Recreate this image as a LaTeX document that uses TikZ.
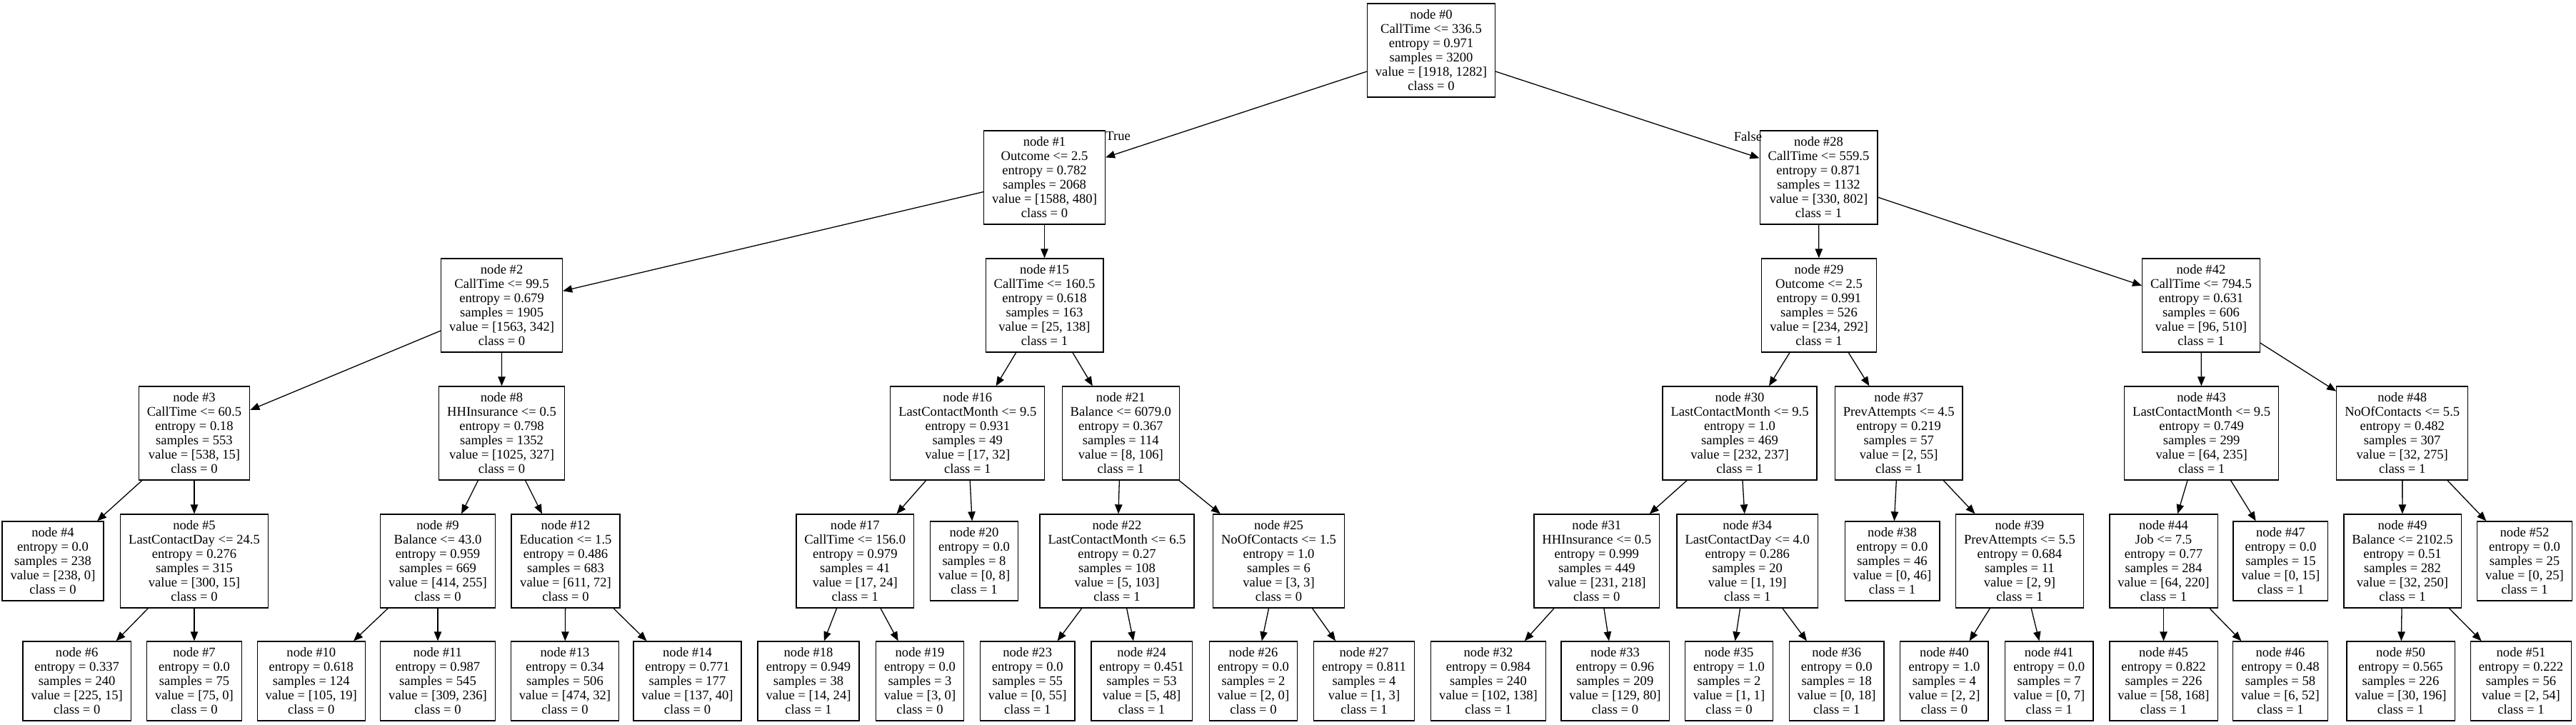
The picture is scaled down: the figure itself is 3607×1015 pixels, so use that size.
\documentclass[tikz,border=0pt]{standalone}
\usepackage{fontspec}
\setmainfont{Liberation Serif}
\usepackage{tikz}
\usetikzlibrary{arrows.meta}

\begin{document}
\begin{tikzpicture}[x=0.5pt, y=-0.5pt,
  box/.style={draw, line width=0.65pt, align=center, inner xsep=5.75pt, inner ysep=0pt, font=\fontsize{9.3}{10}\selectfont},
  split/.style={box, minimum height=65.5pt},
  leaf/.style={box, minimum height=55.5pt},
  link/.style={line width=0.65pt, -{Triangle[length=6.5pt, width=5.2pt]}},
  elabel/.style={inner sep=0pt, font=\fontsize{9.3}{10}\selectfont}]
\useasboundingbox (0,0) rectangle (3607,1015);
% rank 0 and 1
\node[split] (n0) at (2004,70.5) {node \#0\\CallTime <= 336.5\\entropy = 0.971\\samples = 3200\\value = [1918, 1282]\\class = 0};
\node[split] (n1) at (1462.5,248.5) {node \#1\\Outcome <= 2.5\\entropy = 0.782\\samples = 2068\\value = [1588, 480]\\class = 0};
\node[split] (n28) at (2546.5,248.5) {node \#28\\CallTime <= 559.5\\entropy = 0.871\\samples = 1132\\value = [330, 802]\\class = 1};
% rank 2
\node[split] (n2) at (702.6,427.5) {node \#2\\CallTime <= 99.5\\entropy = 0.679\\samples = 1905\\value = [1563, 342]\\class = 0};
\node[split] (n15) at (1462.5,427.5) {node \#15\\CallTime <= 160.5\\entropy = 0.618\\samples = 163\\value = [25, 138]\\class = 1};
\node[split] (n29) at (2547,427.5) {node \#29\\Outcome <= 2.5\\entropy = 0.991\\samples = 526\\value = [234, 292]\\class = 1};
\node[split] (n42) at (3082,427.5) {node \#42\\CallTime <= 794.5\\entropy = 0.631\\samples = 606\\value = [96, 510]\\class = 1};
% rank 3
\node[split] (n3) at (272,606.5) {node \#3\\CallTime <= 60.5\\entropy = 0.18\\samples = 553\\value = [538, 15]\\class = 0};
\node[split] (n8) at (702.5,606.5) {node \#8\\HHInsurance <= 0.5\\entropy = 0.798\\samples = 1352\\value = [1025, 327]\\class = 0};
\node[split] (n16) at (1354.8,606.5) {node \#16\\LastContactMonth <= 9.5\\entropy = 0.931\\samples = 49\\value = [17, 32]\\class = 1};
\node[split] (n21) at (1569.3,606.5) {node \#21\\Balance <= 6079.0\\entropy = 0.367\\samples = 114\\value = [8, 106]\\class = 1};
\node[split] (n30) at (2436,606.5) {node \#30\\LastContactMonth <= 9.5\\entropy = 1.0\\samples = 469\\value = [232, 237]\\class = 1};
\node[split] (n37) at (2658.7,606.5) {node \#37\\PrevAttempts <= 4.5\\entropy = 0.219\\samples = 57\\value = [2, 55]\\class = 1};
\node[split] (n43) at (3082.6,606.5) {node \#43\\LastContactMonth <= 9.5\\entropy = 0.749\\samples = 299\\value = [64, 235]\\class = 1};
\node[split] (n48) at (3363.7,606.5) {node \#48\\NoOfContacts <= 5.5\\entropy = 0.482\\samples = 307\\value = [32, 275]\\class = 1};
% rank 4
\node[leaf] (n4) at (74,785.5) {node \#4\\entropy = 0.0\\samples = 238\\value = [238, 0]\\class = 0};
\node[split] (n5) at (272,785.5) {node \#5\\LastContactDay <= 24.5\\entropy = 0.276\\samples = 315\\value = [300, 15]\\class = 0};
\node[split] (n9) at (613,785.5) {node \#9\\Balance <= 43.0\\entropy = 0.959\\samples = 669\\value = [414, 255]\\class = 0};
\node[split] (n12) at (792,785.5) {node \#12\\Education <= 1.5\\entropy = 0.486\\samples = 683\\value = [611, 72]\\class = 0};
\node[split] (n17) at (1197.3,785.5) {node \#17\\CallTime <= 156.0\\entropy = 0.979\\samples = 41\\value = [17, 24]\\class = 1};
\node[leaf] (n20) at (1364,785.5) {node \#20\\entropy = 0.0\\samples = 8\\value = [0, 8]\\class = 1};
\node[split] (n22) at (1564,785.5) {node \#22\\LastContactMonth <= 6.5\\entropy = 0.27\\samples = 108\\value = [5, 103]\\class = 1};
\node[split] (n25) at (1790.5,785.5) {node \#25\\NoOfContacts <= 1.5\\entropy = 1.0\\samples = 6\\value = [3, 3]\\class = 0};
\node[split] (n31) at (2235.8,785.5) {node \#31\\HHInsurance <= 0.5\\entropy = 0.999\\samples = 449\\value = [231, 218]\\class = 0};
\node[split] (n34) at (2446.7,785.5) {node \#34\\LastContactDay <= 4.0\\entropy = 0.286\\samples = 20\\value = [1, 19]\\class = 1};
\node[leaf] (n38) at (2649.5,785.5) {node \#38\\entropy = 0.0\\samples = 46\\value = [0, 46]\\class = 1};
\node[split] (n39) at (2827.9,785.5) {node \#39\\PrevAttempts <= 5.5\\entropy = 0.684\\samples = 11\\value = [2, 9]\\class = 1};
\node[split] (n44) at (3029.5,785.5) {node \#44\\Job <= 7.5\\entropy = 0.77\\samples = 284\\value = [64, 220]\\class = 1};
\node[leaf] (n47) at (3193.4,785.5) {node \#47\\entropy = 0.0\\samples = 15\\value = [0, 15]\\class = 1};
\node[split] (n49) at (3364,785.5) {node \#49\\Balance <= 2102.5\\entropy = 0.51\\samples = 282\\value = [32, 250]\\class = 1};
\node[leaf] (n52) at (3535,785.5) {node \#52\\entropy = 0.0\\samples = 25\\value = [0, 25]\\class = 1};
% rank 5
\node[leaf] (n6) at (107.7,953.5) {node \#6\\entropy = 0.337\\samples = 240\\value = [225, 15]\\class = 0};
\node[leaf] (n7) at (272,953.5) {node \#7\\entropy = 0.0\\samples = 75\\value = [75, 0]\\class = 0};
\node[leaf] (n10) at (435.8,953.5) {node \#10\\entropy = 0.618\\samples = 124\\value = [105, 19]\\class = 0};
\node[leaf] (n11) at (613,953.5) {node \#11\\entropy = 0.987\\samples = 545\\value = [309, 236]\\class = 0};
\node[leaf] (n13) at (791,953.5) {node \#13\\entropy = 0.34\\samples = 506\\value = [474, 32]\\class = 0};
\node[leaf] (n14) at (962.5,953.5) {node \#14\\entropy = 0.771\\samples = 177\\value = [137, 40]\\class = 0};
\node[leaf] (n18) at (1132,953.5) {node \#18\\entropy = 0.949\\samples = 38\\value = [14, 24]\\class = 1};
\node[leaf] (n19) at (1288,953.5) {node \#19\\entropy = 0.0\\samples = 3\\value = [3, 0]\\class = 0};
\node[leaf] (n23) at (1438.7,953.5) {node \#23\\entropy = 0.0\\samples = 55\\value = [0, 55]\\class = 1};
\node[leaf] (n24) at (1598.6,953.5) {node \#24\\entropy = 0.451\\samples = 53\\value = [5, 48]\\class = 1};
\node[leaf] (n26) at (1755,953.5) {node \#26\\entropy = 0.0\\samples = 2\\value = [2, 0]\\class = 0};
\node[leaf] (n27) at (1910,953.5) {node \#27\\entropy = 0.811\\samples = 4\\value = [1, 3]\\class = 1};
\node[leaf] (n32) at (2084,953.5) {node \#32\\entropy = 0.984\\samples = 240\\value = [102, 138]\\class = 1};
\node[leaf] (n33) at (2261.5,953.5) {node \#33\\entropy = 0.96\\samples = 209\\value = [129, 80]\\class = 0};
\node[leaf] (n35) at (2421,953.5) {node \#35\\entropy = 1.0\\samples = 2\\value = [1, 1]\\class = 0};
\node[leaf] (n36) at (2571.7,953.5) {node \#36\\entropy = 0.0\\samples = 18\\value = [0, 18]\\class = 1};
\node[leaf] (n40) at (2722.4,953.5) {node \#40\\entropy = 1.0\\samples = 4\\value = [2, 2]\\class = 0};
\node[leaf] (n41) at (2869.2,953.5) {node \#41\\entropy = 0.0\\samples = 7\\value = [0, 7]\\class = 1};
\node[leaf] (n45) at (3029.5,953.5) {node \#45\\entropy = 0.822\\samples = 226\\value = [58, 168]\\class = 1};
\node[leaf] (n46) at (3193,953.5) {node \#46\\entropy = 0.48\\samples = 58\\value = [6, 52]\\class = 1};
\node[leaf] (n50) at (3361.5,953.5) {node \#50\\entropy = 0.565\\samples = 226\\value = [30, 196]\\class = 1};
\node[leaf] (n51) at (3530,953.5) {node \#51\\entropy = 0.222\\samples = 56\\value = [2, 54]\\class = 1};
% branch labels
\node[elabel, anchor=north west] (ltrue) at ([yshift=-1pt]n1.north east) {True};
\node[elabel, anchor=north east] (lfalse) at ([xshift=2pt, yshift=-1pt]n28.north west) {False};
% edges
\draw[link] (n0) -- (n1);
\draw[link] (n0) -- (n28);
\draw[link] (n1) -- (n2);
\draw[link] (n1) -- (n15);
\draw[link] (n2) -- (n3);
\draw[link] (n2) -- (n8);
\draw[link] (n3) -- (n4);
\draw[link] (n3) -- (n5);
\draw[link] (n5) -- (n6);
\draw[link] (n5) -- (n7);
\draw[link] (n8) -- (n9);
\draw[link] (n8) -- (n12);
\draw[link] (n9) -- (n10);
\draw[link] (n9) -- (n11);
\draw[link] (n12) -- (n13);
\draw[link] (n12) -- (n14);
\draw[link] (n15) -- (n16);
\draw[link] (n15) -- (n21);
\draw[link] (n16) -- (n17);
\draw[link] (n16) -- (n20);
\draw[link] (n17) -- (n18);
\draw[link] (n17) -- (n19);
\draw[link] (n21) -- (n22);
\draw[link] (n21) -- (n25);
\draw[link] (n22) -- (n23);
\draw[link] (n22) -- (n24);
\draw[link] (n25) -- (n26);
\draw[link] (n25) -- (n27);
\draw[link] (n28) -- (n29);
\draw[link] (n28) -- (n42);
\draw[link] (n29) -- (n30);
\draw[link] (n29) -- (n37);
\draw[link] (n30) -- (n31);
\draw[link] (n30) -- (n34);
\draw[link] (n31) -- (n32);
\draw[link] (n31) -- (n33);
\draw[link] (n34) -- (n35);
\draw[link] (n34) -- (n36);
\draw[link] (n37) -- (n38);
\draw[link] (n37) -- (n39);
\draw[link] (n39) -- (n40);
\draw[link] (n39) -- (n41);
\draw[link] (n42) -- (n43);
\draw[link] (n42) -- (n48);
\draw[link] (n43) -- (n44);
\draw[link] (n43) -- (n47);
\draw[link] (n44) -- (n45);
\draw[link] (n44) -- (n46);
\draw[link] (n48) -- (n49);
\draw[link] (n48) -- (n52);
\draw[link] (n49) -- (n50);
\draw[link] (n49) -- (n51);
\end{tikzpicture}
\end{document}
